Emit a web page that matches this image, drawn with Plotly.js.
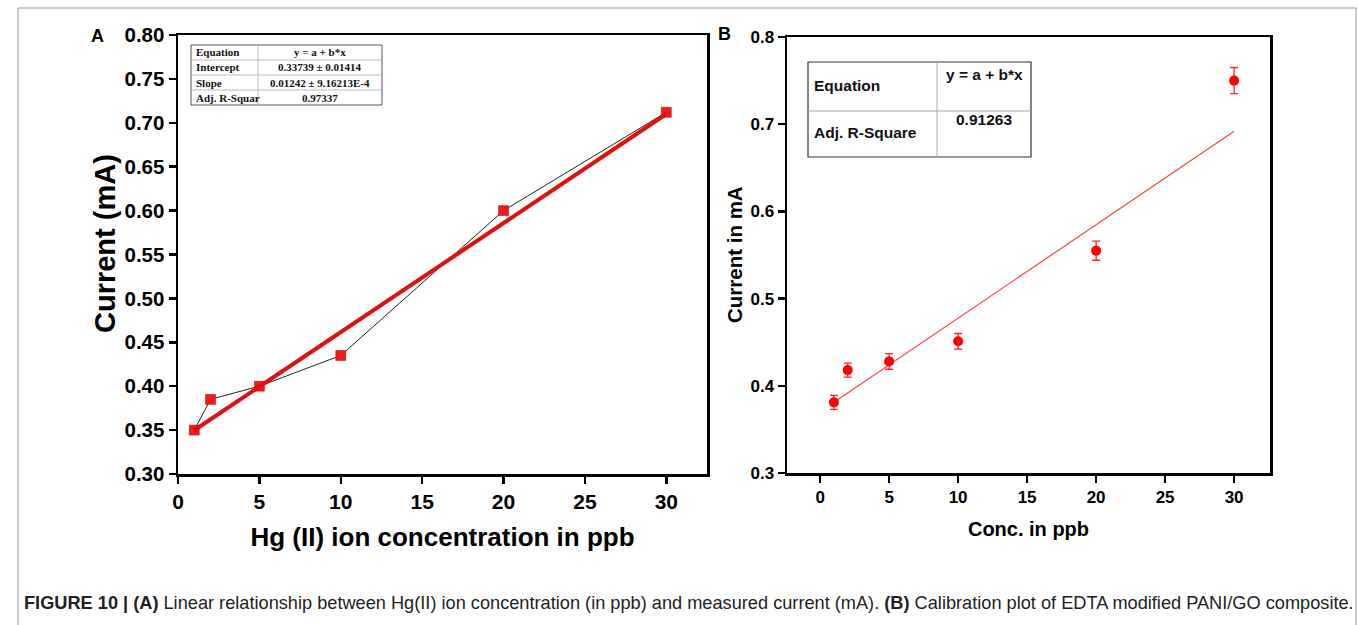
<!DOCTYPE html>
<html>
<head>
<meta charset="utf-8">
<script src="https://cdn.plot.ly/plotly-3.0.1.min.js"></script>
<style>html,body{margin:0;padding:0;background:#fff;}#chart{width:1358px;height:625px;}</style>
</head>
<body>
<div id="chart"></div>
<script>
// ---------- Data ----------
// Panel A
const concA = [1, 2, 5, 10, 20, 30];
const currentA = [0.350, 0.385, 0.400, 0.435, 0.600, 0.712];
const fitAx = [1, 30];
const fitAy = [0.3498, 0.7100];
const tableA = [
  ["Equation", "y = a + b*x"],
  ["Intercept", "0.33739 \u00b1 0.01414"],
  ["Slope", "0.01242 \u00b1 9.16213E-4"],
  ["Adj. R-Squar", "0.97337"]
];
// Panel B
const concB = [1, 2, 5, 10, 20, 30];
const currentB = [0.381, 0.418, 0.428, 0.451, 0.555, 0.750];
const errB = [0.008, 0.008, 0.009, 0.009, 0.011, 0.015];
const fitBx = [1, 30];
const fitBy = [0.381, 0.692];
const tableB = [
  ["Equation", "y = a + b*x"],
  ["Adj. R-Square", "0.91263"]
];
const ticksA_y = [0.30,0.35,0.40,0.45,0.50,0.55,0.60,0.65,0.70,0.75,0.80];
const ticksX = [0,5,10,15,20,25,30];
const ticksB_y = [0.3,0.4,0.5,0.6,0.7,0.8];

// ---------- Layout helpers ----------
const W = 1358, H = 625;
const px = x => x / W;
const py = y => 1 - y / H;

const RED = '#ee1c1c';
const FONT = 'Liberation Sans, Arial, sans-serif';

const traces = [
  { x: concA, y: currentA, type: 'scatter', mode: 'lines+markers', xaxis: 'x', yaxis: 'y',
    line: { color: '#222', width: 1 },
    marker: { symbol: 'square', size: 10, color: RED, line: { color: '#b00', width: 0.5 } },
    showlegend: false, cliponaxis: false },
  { x: fitAx, y: fitAy, type: 'scatter', mode: 'lines', xaxis: 'x', yaxis: 'y',
    line: { color: '#e01010', width: 4 }, showlegend: false },
  { x: fitBx, y: fitBy, type: 'scatter', mode: 'lines', xaxis: 'x2', yaxis: 'y2',
    line: { color: '#ff4040', width: 1.2 }, showlegend: false },
  { x: concB, y: currentB, type: 'scatter', mode: 'markers', xaxis: 'x2', yaxis: 'y2',
    marker: { symbol: 'circle', size: 10, color: '#ff0000' },
    error_y: { type: 'data', array: errB, visible: true, color: '#ff2020', thickness: 1.3, width: 4 },
    showlegend: false, cliponaxis: false }
];

const axisCommon = {
  showgrid: false, zeroline: false, showline: true, linecolor: '#000', linewidth: 2.5,
  mirror: true, ticks: 'outside', tickcolor: '#000', tickwidth: 2.5, ticklen: 7,
  fixedrange: true
};

const shapes = [];
const annotations = [];

// outer figure frame
shapes.push({ type: 'line', xref: 'paper', yref: 'paper', x0: px(18), x1: px(1356), y0: py(8), y1: py(8), line: { color: '#999', width: 1 } });
shapes.push({ type: 'line', xref: 'paper', yref: 'paper', x0: px(18), x1: px(18), y0: py(8), y1: py(625), line: { color: '#999', width: 1 } });
shapes.push({ type: 'line', xref: 'paper', yref: 'paper', x0: px(1356), x1: px(1356), y0: py(8), y1: py(625), line: { color: '#999', width: 1 } });

// Table A
(function(){
  const x0 = 191, x1 = 382, xm = 258;
  const rows = [45, 60, 75, 90, 105];
  shapes.push({ type: 'rect', xref: 'paper', yref: 'paper', x0: px(x0), x1: px(x1), y0: py(rows[0]), y1: py(rows[4]), line: { color: '#555', width: 1 }, fillcolor: '#fff' });
  shapes.push({ type: 'line', xref: 'paper', yref: 'paper', x0: px(xm), x1: px(xm), y0: py(rows[0]), y1: py(rows[4]), line: { color: '#bbb', width: 1 } });
  for (let i = 1; i < 4; i++) shapes.push({ type: 'line', xref: 'paper', yref: 'paper', x0: px(x0), x1: px(x1), y0: py(rows[i]), y1: py(rows[i]), line: { color: '#bbb', width: 1 } });
  tableA.forEach((r, i) => {
    const yc = (rows[i] + rows[i+1]) / 2;
    annotations.push({ xref: 'paper', yref: 'paper', x: px(x0 + 3), y: py(yc), text: r[0], showarrow: false, xanchor: 'left', yanchor: 'middle',
      font: { family: 'Liberation Serif, Times New Roman, serif', size: 11, color: '#111', weight: 'bold' } });
    annotations.push({ xref: 'paper', yref: 'paper', x: px((xm + x1) / 2), y: py(yc), text: r[1], showarrow: false, xanchor: 'center', yanchor: 'middle',
      font: { family: 'Liberation Serif, Times New Roman, serif', size: 11, color: '#111', weight: 'bold' } });
  });
})();

// Table B
(function(){
  const x0 = 808, x1 = 1031, xm = 937;
  const rows = [62, 111, 157];
  shapes.push({ type: 'rect', xref: 'paper', yref: 'paper', x0: px(x0), x1: px(x1), y0: py(rows[0]), y1: py(rows[2]), line: { color: '#333', width: 1.2 }, fillcolor: '#fff' });
  shapes.push({ type: 'line', xref: 'paper', yref: 'paper', x0: px(xm), x1: px(xm), y0: py(rows[0]), y1: py(rows[2]), line: { color: '#aaa', width: 1 } });
  shapes.push({ type: 'line', xref: 'paper', yref: 'paper', x0: px(x0), x1: px(x1), y0: py(rows[1]), y1: py(rows[1]), line: { color: '#aaa', width: 1 } });
  const labelY = [85, 132];
  const valY = [74, 120];
  tableB.forEach((r, i) => {
    annotations.push({ xref: 'paper', yref: 'paper', x: px(x0 + 4), y: py(labelY[i]), text: r[0], showarrow: false, xanchor: 'left', yanchor: 'middle',
      font: { family: FONT, size: 15.5, color: '#111', weight: 'bold' } });
    annotations.push({ xref: 'paper', yref: 'paper', x: px((xm + x1) / 2), y: py(valY[i]), text: r[1], showarrow: false, xanchor: 'center', yanchor: 'middle',
      font: { family: FONT, size: 15.5, color: '#111', weight: 'bold' } });
  });
})();

// panel letters
annotations.push({ xref: 'paper', yref: 'paper', x: px(97), y: py(36), text: 'A', showarrow: false, xanchor: 'center', yanchor: 'middle', font: { family: FONT, size: 18, color: '#000', weight: 'bold' } });
annotations.push({ xref: 'paper', yref: 'paper', x: px(724), y: py(34), text: 'B', showarrow: false, xanchor: 'center', yanchor: 'middle', font: { family: FONT, size: 18, color: '#000', weight: 'bold' } });

// y-axis titles (placed as rotated text)
annotations.push({ xref: 'paper', yref: 'paper', x: px(105), y: py(244), text: 'Current (mA)', textangle: -90, showarrow: false, xanchor: 'center', yanchor: 'middle',
  font: { family: FONT, size: 29, color: '#000', weight: 'bold' } });
annotations.push({ xref: 'paper', yref: 'paper', x: px(735), y: py(255), text: 'Current in mA', textangle: -90, showarrow: false, xanchor: 'center', yanchor: 'middle',
  font: { family: FONT, size: 20.5, color: '#000', weight: 'bold' } });

// caption
annotations.push({ xref: 'paper', yref: 'paper', x: px(22), y: py(603), xanchor: 'left', yanchor: 'middle', showarrow: false,
  text: '<b>FIGURE 10 | (A)</b> Linear relationship between Hg(II) ion concentration (in ppb) and measured current (mA). <b>(B)</b> Calibration plot of EDTA modified PANI/GO composite.',
  font: { family: FONT, size: 18.2, color: '#222' } });

const layout = {
  width: W, height: H,
  margin: { l: 0, r: 0, t: 0, b: 0 },
  paper_bgcolor: '#fff', plot_bgcolor: '#fff',
  showlegend: false,
  xaxis: Object.assign({}, axisCommon, {
    domain: [px(178), px(707)], range: [0, 32.5], anchor: 'y',
    tickvals: ticksX, ticktext: ticksX.map(String),
    tickfont: { family: FONT, size: 21, color: '#000', weight: 'bold' },
    title: { text: 'Hg (II) ion concentration in ppb', font: { family: FONT, size: 26, color: '#000', weight: 'bold' }, standoff: 16 }
  }),
  yaxis: Object.assign({}, axisCommon, {
    domain: [py(474), py(35)], range: [0.30, 0.80], anchor: 'x',
    tickvals: ticksA_y, ticktext: ticksA_y.map(v => v.toFixed(2)),
    tickfont: { family: FONT, size: 20.5, color: '#000', weight: 'bold' }
  }),
  xaxis2: Object.assign({}, axisCommon, {
    domain: [px(787), px(1270)], range: [-2.4, 32.6], anchor: 'y2',
    tickvals: ticksX, ticktext: ticksX.map(String),
    tickfont: { family: FONT, size: 17, color: '#000', weight: 'bold' },
    title: { text: 'Conc. in ppb', font: { family: FONT, size: 20, color: '#000', weight: 'bold' }, standoff: 16 }
  }),
  yaxis2: Object.assign({}, axisCommon, {
    domain: [py(473), py(37)], range: [0.3, 0.8], anchor: 'x2',
    tickvals: ticksB_y, ticktext: ticksB_y.map(v => v.toFixed(1)),
    tickfont: { family: FONT, size: 17, color: '#000', weight: 'bold' }
  }),
  shapes: shapes,
  annotations: annotations
};

Plotly.newPlot('chart', traces, layout, { displayModeBar: false, staticPlot: true });
</script>
</body>
</html>
